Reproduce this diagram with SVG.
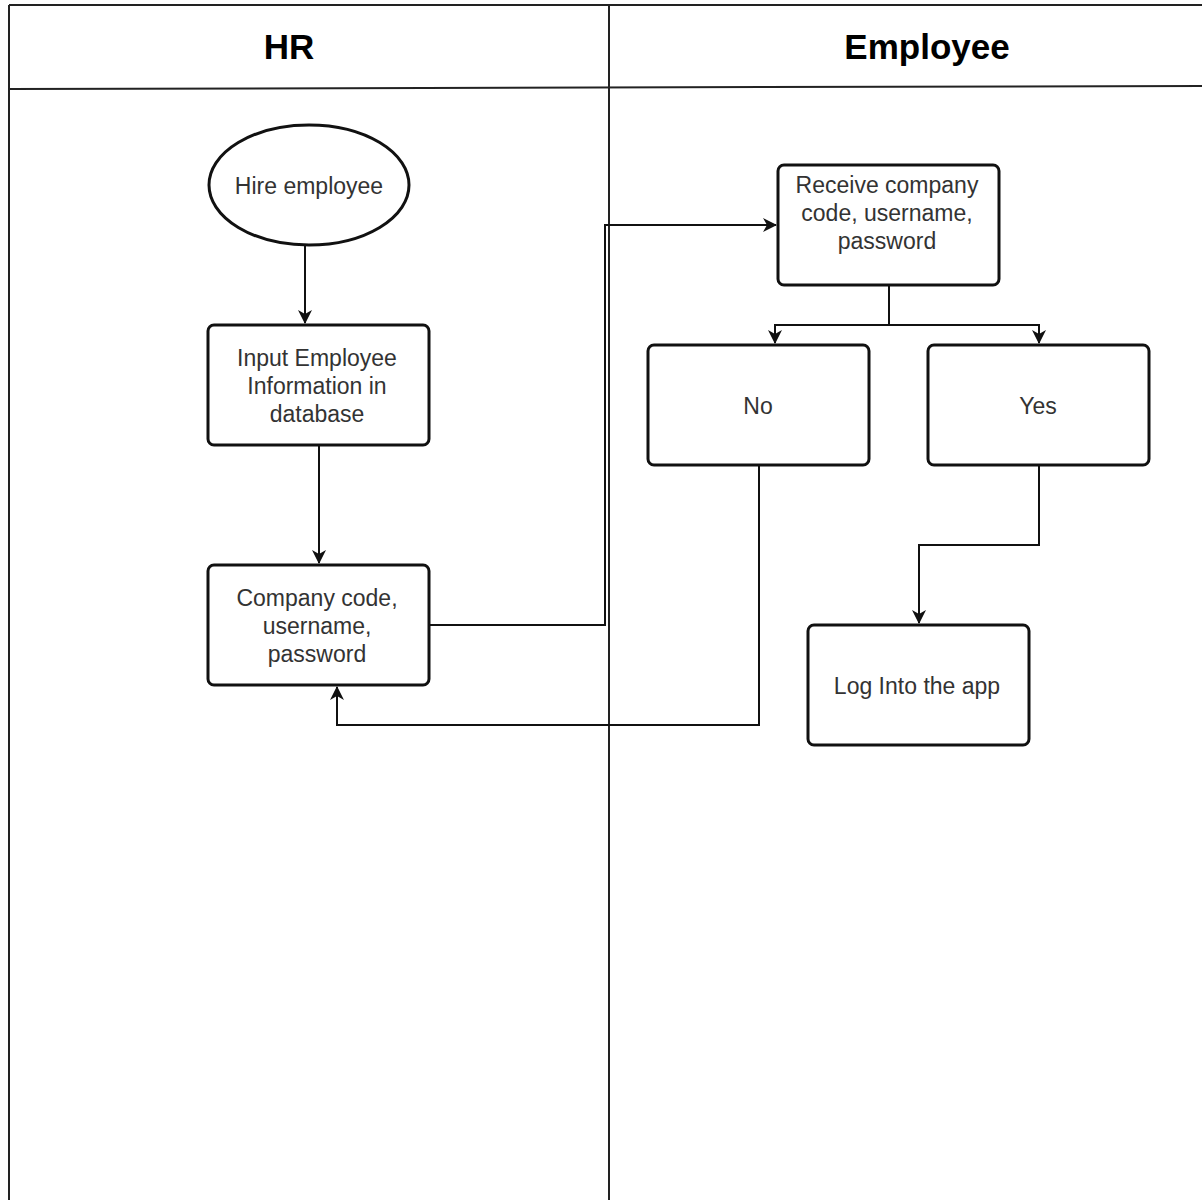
<svg xmlns="http://www.w3.org/2000/svg" width="1202" height="1200" viewBox="0 0 1202 1200">
  <style>
    .lane { fill: none; stroke: #222; stroke-width: 2; }
    .node { fill: #fff; stroke: #111; stroke-width: 3; }
    .edge { fill: none; stroke: #111; stroke-width: 2; }
    .head { font-family: "Liberation Sans", Arial, sans-serif; font-weight: bold; font-size: 35px; fill: #000; text-anchor: middle; }
    .label { font-family: "Liberation Sans", Arial, sans-serif; font-size: 23px; fill: #333; text-anchor: middle; }
  </style>
  <defs>
    <marker id="arrow" viewBox="0 0 14 14" refX="13" refY="7" markerWidth="14" markerHeight="14" markerUnits="userSpaceOnUse" orient="auto">
      <path d="M0,0 L14,7 L0,14 L4,7 z" fill="#111"/>
    </marker>
  </defs>
  <rect width="1202" height="1200" fill="#fff"/>

  <!-- swimlane frame -->
  <g id="lanes">
    <line class="lane" x1="9" y1="5" x2="1202" y2="5"/>
    <line class="lane" x1="9" y1="5" x2="9" y2="1200"/>
    <line class="lane" x1="9" y1="89" x2="1202" y2="86"/>
    <line class="lane" x1="609" y1="5" x2="609" y2="1200"/>
    <text class="head" x="289" y="59">HR</text>
    <text class="head" x="927" y="59">Employee</text>
  </g>

  <!-- connectors -->
  <g id="connectors">
    <path class="edge" d="M305,245 V323" marker-end="url(#arrow)"/>
    <path class="edge" d="M319,445 V563" marker-end="url(#arrow)"/>
    <path class="edge" d="M429,625 H605 V225 H776" marker-end="url(#arrow)"/>
    <path class="edge" d="M889,285 V325 H775 V343" marker-end="url(#arrow)"/>
    <path class="edge" d="M889,325 H1039 V343" marker-end="url(#arrow)"/>
    <path class="edge" d="M759,465 V725 H337 V687" marker-end="url(#arrow)"/>
    <path class="edge" d="M1039,465 V545 H919 V623" marker-end="url(#arrow)"/>
  </g>

  <g id="hire">
    <ellipse class="node" cx="309" cy="185" rx="100" ry="60"/>
    <text class="label" x="309" y="194">Hire employee</text>
  </g>

  <g id="input">
    <rect class="node" x="208" y="325" width="221" height="120" rx="6"/>
    <text class="label" x="317" y="366">Input Employee</text>
    <text class="label" x="317" y="394">Information in</text>
    <text class="label" x="317" y="422">database</text>
  </g>

  <g id="credentials">
    <rect class="node" x="208" y="565" width="221" height="120" rx="6"/>
    <text class="label" x="317" y="606">Company code,</text>
    <text class="label" x="317" y="634">username,</text>
    <text class="label" x="317" y="662">password</text>
  </g>

  <g id="receive">
    <rect class="node" x="778" y="165" width="221" height="120" rx="6"/>
    <text class="label" x="887" y="193">Receive company</text>
    <text class="label" x="887" y="221">code, username,</text>
    <text class="label" x="887" y="249">password</text>
  </g>

  <g id="no">
    <rect class="node" x="648" y="345" width="221" height="120" rx="6"/>
    <text class="label" x="758" y="414">No</text>
  </g>

  <g id="yes">
    <rect class="node" x="928" y="345" width="221" height="120" rx="6"/>
    <text class="label" x="1038" y="414">Yes</text>
  </g>

  <g id="login">
    <rect class="node" x="808" y="625" width="221" height="120" rx="6"/>
    <text class="label" x="917" y="694">Log Into the app</text>
  </g>
</svg>
